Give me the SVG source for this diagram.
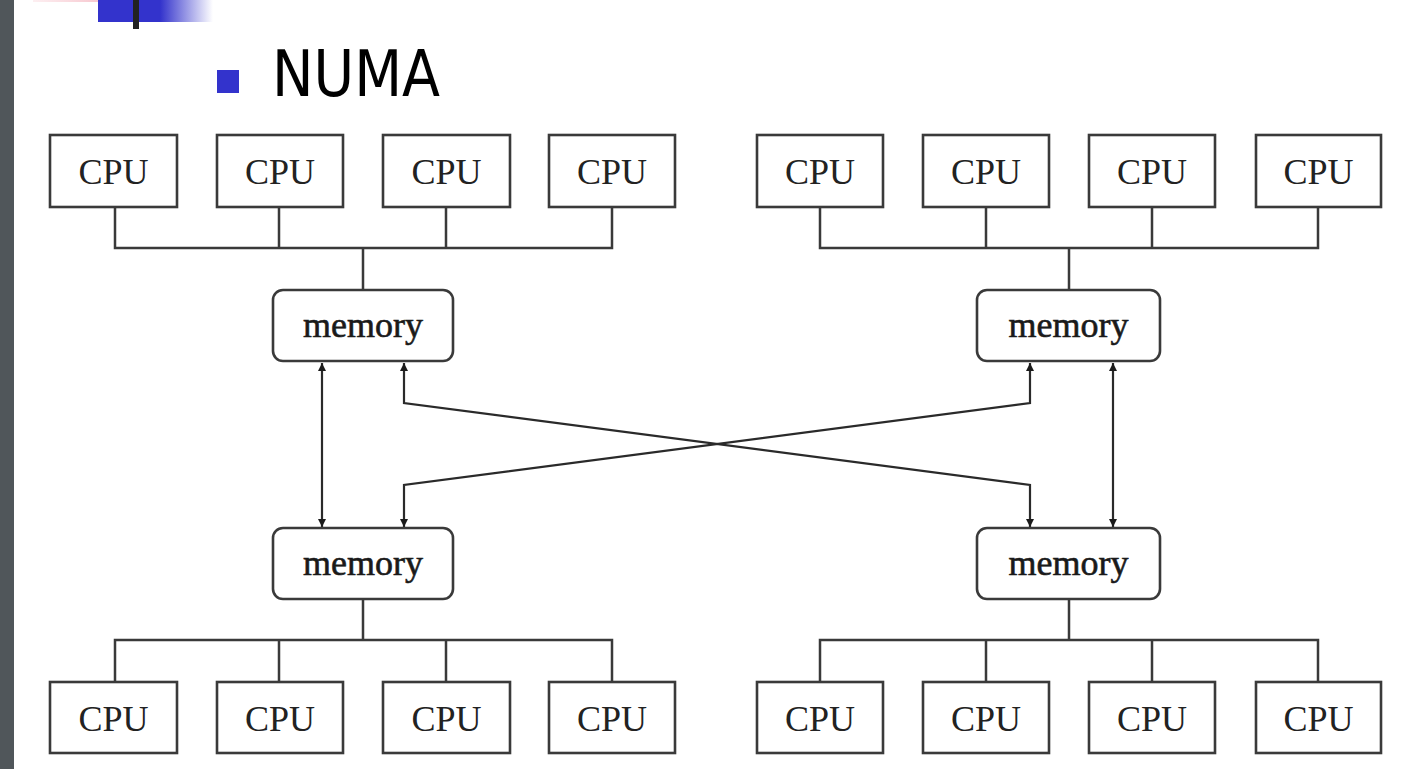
<svg xmlns="http://www.w3.org/2000/svg" width="1420" height="769" viewBox="0 0 1420 769">
<style>
.box{fill:#fff;stroke:#3a3a3a;stroke-width:2.6}
.mem{fill:#fff;stroke:#3a3a3a;stroke-width:2.6}
.cpu{font-family:"Liberation Serif","Times New Roman",serif;font-size:36px;fill:#222;text-anchor:middle}
.memt{font-family:"Liberation Serif","Times New Roman",serif;font-size:36px;fill:#1a1a1a;stroke:#1a1a1a;stroke-width:0.6;text-anchor:middle}
.ln{fill:none;stroke:#3a3a3a;stroke-width:2.5}
.ar{fill:none;stroke:#2a2a2a;stroke-width:2.2;marker-start:url(#ah);marker-end:url(#ah)}
</style>
<defs>
<marker id="ah" viewBox="0 0 10 10" refX="10" refY="5" markerWidth="11" markerHeight="8" markerUnits="userSpaceOnUse" orient="auto-start-reverse">
<path d="M0,0 L10,5 L0,10 z" fill="#1a1a1a"/>
</marker>
<linearGradient id="bluefade" x1="0" y1="0" x2="1" y2="0">
<stop offset="0" stop-color="#3333cc"/>
<stop offset="0.54" stop-color="#3333cc"/>
<stop offset="1" stop-color="#3333cc" stop-opacity="0"/>
</linearGradient>
<linearGradient id="pinkfade" x1="0" y1="0" x2="1" y2="0">
<stop offset="0" stop-color="#f8c8d0" stop-opacity="0.3"/>
<stop offset="1" stop-color="#f4b6c0"/>
</linearGradient>
</defs>
<rect x="0" y="0" width="1420" height="769" fill="#fff"/>
<g id="decor">
<rect x="0" y="0" width="14" height="769" fill="#50565a"/>
<rect x="33" y="0" width="89" height="2" fill="url(#pinkfade)"/>
<rect x="98" y="0" width="115" height="22" fill="url(#bluefade)"/>
<rect x="133" y="0" width="6" height="29" fill="#222"/>
</g>
<g id="title">
<rect x="217" y="70" width="22" height="23" fill="#3333cc"/>
<text x="272" y="96" font-family="DejaVu Sans Condensed,DejaVu Sans,sans-serif" font-size="64" textLength="168" lengthAdjust="spacingAndGlyphs" fill="#000">NUMA</text>
</g>
<g id="connectors">
<path class="ln" d="M115,207 V248 H612 V207 M279,207 V248 M446,207 V248 M363,248 V290"/>
<path class="ln" d="M820,207 V248 H1318 V207 M986,207 V248 M1152,207 V248 M1069,248 V290"/>
<path class="ln" d="M115,682 V640 H612 V682 M279,682 V640 M446,682 V640 M363,640 V599"/>
<path class="ln" d="M820,682 V640 H1318 V682 M986,682 V640 M1152,682 V640 M1069,640 V599"/>
<path class="ar" d="M322,363 V527"/>
<path class="ar" d="M1113,363 V527"/>
<path class="ar" d="M404,363 V403 L1030,485 V527"/>
<path class="ar" d="M404,527 V485 L1030,403 V363"/>
</g>
<g id="cpu-tl1"><rect class="box" x="50" y="135" width="127" height="72"/><text class="cpu" x="113.5" y="184">CPU</text></g>
<g id="cpu-tl2"><rect class="box" x="217" y="135" width="126" height="72"/><text class="cpu" x="280" y="184">CPU</text></g>
<g id="cpu-tl3"><rect class="box" x="383" y="135" width="127" height="72"/><text class="cpu" x="446.5" y="184">CPU</text></g>
<g id="cpu-tl4"><rect class="box" x="549" y="135" width="126" height="72"/><text class="cpu" x="612" y="184">CPU</text></g>
<g id="cpu-tr1"><rect class="box" x="757" y="135" width="126" height="72"/><text class="cpu" x="820" y="184">CPU</text></g>
<g id="cpu-tr2"><rect class="box" x="923" y="135" width="126" height="72"/><text class="cpu" x="986" y="184">CPU</text></g>
<g id="cpu-tr3"><rect class="box" x="1089" y="135" width="126" height="72"/><text class="cpu" x="1152" y="184">CPU</text></g>
<g id="cpu-tr4"><rect class="box" x="1256" y="135" width="125" height="72"/><text class="cpu" x="1318.5" y="184">CPU</text></g>
<g id="mem-tl"><rect class="mem" x="273" y="290" width="180" height="71" rx="10"/><text class="memt" x="363" y="337">memory</text></g>
<g id="mem-tr"><rect class="mem" x="977" y="290" width="183" height="71" rx="10"/><text class="memt" x="1068.5" y="337">memory</text></g>
<g id="mem-bl"><rect class="mem" x="273" y="528" width="180" height="71" rx="10"/><text class="memt" x="363" y="575">memory</text></g>
<g id="mem-br"><rect class="mem" x="977" y="528" width="183" height="71" rx="10"/><text class="memt" x="1068.5" y="575">memory</text></g>
<g id="cpu-bl1"><rect class="box" x="50" y="682" width="127" height="71"/><text class="cpu" x="113.5" y="731">CPU</text></g>
<g id="cpu-bl2"><rect class="box" x="217" y="682" width="126" height="71"/><text class="cpu" x="280" y="731">CPU</text></g>
<g id="cpu-bl3"><rect class="box" x="383" y="682" width="127" height="71"/><text class="cpu" x="446.5" y="731">CPU</text></g>
<g id="cpu-bl4"><rect class="box" x="549" y="682" width="126" height="71"/><text class="cpu" x="612" y="731">CPU</text></g>
<g id="cpu-br1"><rect class="box" x="757" y="682" width="126" height="71"/><text class="cpu" x="820" y="731">CPU</text></g>
<g id="cpu-br2"><rect class="box" x="923" y="682" width="126" height="71"/><text class="cpu" x="986" y="731">CPU</text></g>
<g id="cpu-br3"><rect class="box" x="1089" y="682" width="126" height="71"/><text class="cpu" x="1152" y="731">CPU</text></g>
<g id="cpu-br4"><rect class="box" x="1256" y="682" width="125" height="71"/><text class="cpu" x="1318.5" y="731">CPU</text></g>
</svg>
